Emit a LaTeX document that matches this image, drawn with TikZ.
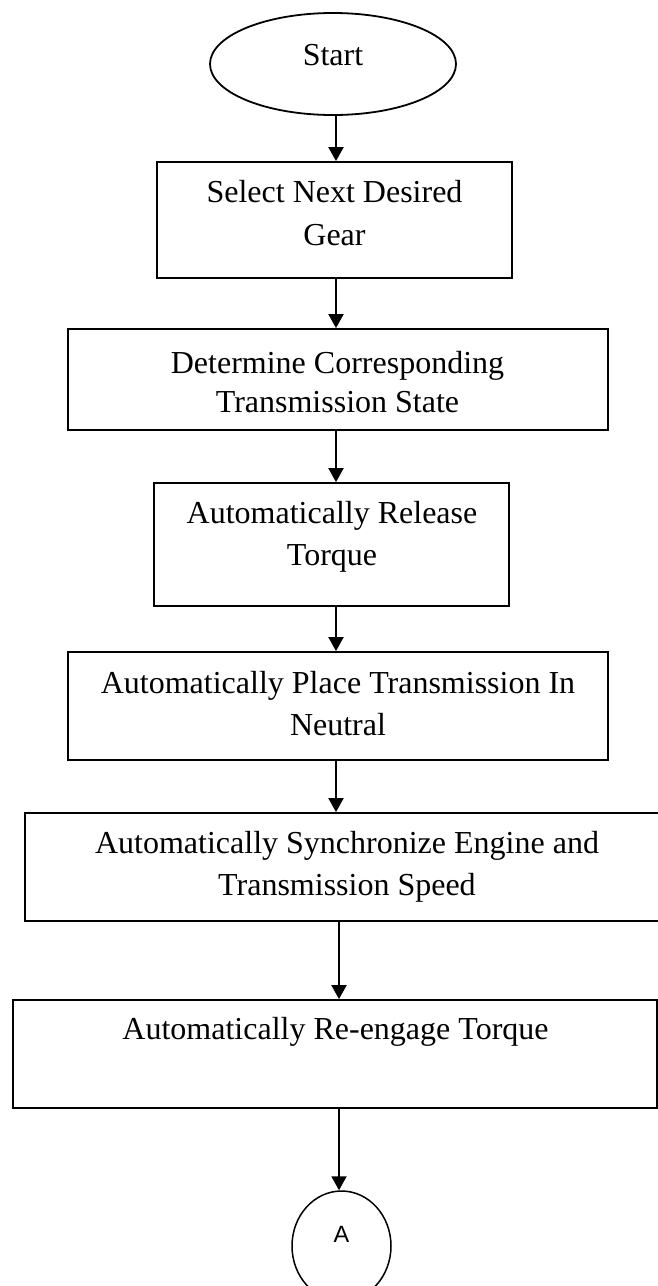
\documentclass[tikz,border=0pt]{standalone}
\usepackage{fontspec}
\setmainfont{Liberation Serif}
\newfontfamily\connfont{Liberation Sans}
\usetikzlibrary{arrows.meta,shapes.geometric}
% two centred lines whose baseline is that of the first line
\newcommand{\twoline}[3][0pt]{\begin{tabular}[t]{@{}c@{}}#2\\[#1]#3\end{tabular}}
\begin{document}
\begin{tikzpicture}[x=1pt,y=-1pt,
  stepbox/.style={draw,line width=1.8pt,rectangle,inner sep=0pt},
  steptext/.style={anchor=base,inner sep=0pt,font=\fontsize{32}{39}\selectfont},
  flow/.style={line width=2pt,-{Triangle[length=14pt,width=15pt]}}]
  \useasboundingbox (0,0) rectangle (658,1286);
  \fill[white] (0,0) rectangle (658,1286);
  \clip (0,0) rectangle (658,1286);

  % terminator
  \node[draw,ellipse,line width=1.8pt,inner sep=0pt,minimum width=246pt,minimum height=102pt,
        text height=12pt,text depth=10pt,font=\fontsize{32}{39}\selectfont] (start) at (333,64) {Start};

  % process boxes
  \node[stepbox,minimum width=355pt,minimum height=116pt] (b1) at (334.5,220) {};
  \node[stepbox,minimum width=540pt,minimum height=101pt] (b2) at (338,379.5) {};
  \node[stepbox,minimum width=355pt,minimum height=123pt] (b3) at (331.5,544.5) {};
  \node[stepbox,minimum width=540pt,minimum height=108pt] (b4) at (338,706) {};
  \node[stepbox,minimum width=644pt,minimum height=108pt] (b5) at (347,867) {};
  \node[stepbox,minimum width=644pt,minimum height=108pt] (b6) at (335,1054) {};

  % box captions
  \node[steptext] (t1) at (334.5,202) {\twoline[4pt]{Select Next Desired}{Gear}};
  \node[steptext] (t2) at (337.5,373) {\twoline{Determine Corresponding}{Transmission State}};
  \node[steptext] (t3) at (332,523) {\twoline[3pt]{Automatically Release}{Torque}};
  \node[steptext] (t4) at (338,693) {\twoline[3pt]{Automatically Place Transmission In}{Neutral}};
  \node[steptext] (t5) at (347,853) {\twoline[3pt]{Automatically Synchronize Engine and}{Transmission Speed}};
  \node[steptext] (t6) at (335.5,1039) {Automatically Re-engage Torque};

  % off-page connector
  \node[draw,ellipse,line width=1.5pt,inner sep=0pt,minimum width=99pt,minimum height=110pt,
        text height=10pt,text depth=18pt,font=\connfont\fontsize{23.5}{28}\selectfont] (conA) at (341.5,1246) {A};

  % flow axes
  \coordinate (axisA) at (336,0);
  \coordinate (axisB) at (339,0);

  \draw[flow] (start.south -| axisA) -- (b1.north -| axisA);
  \draw[flow] (b1.south -| axisA) -- (b2.north -| axisA);
  \draw[flow] (b2.south -| axisA) -- (b3.north -| axisA);
  \draw[flow] (b3.south -| axisA) -- (b4.north -| axisA);
  \draw[flow] (b4.south -| axisA) -- (b5.north -| axisA);
  \draw[flow] (b5.south -| axisB) -- (b6.north -| axisB);
  \draw[flow] (b6.south -| axisB) -- (conA.north -| axisB);
\end{tikzpicture}
\end{document}
